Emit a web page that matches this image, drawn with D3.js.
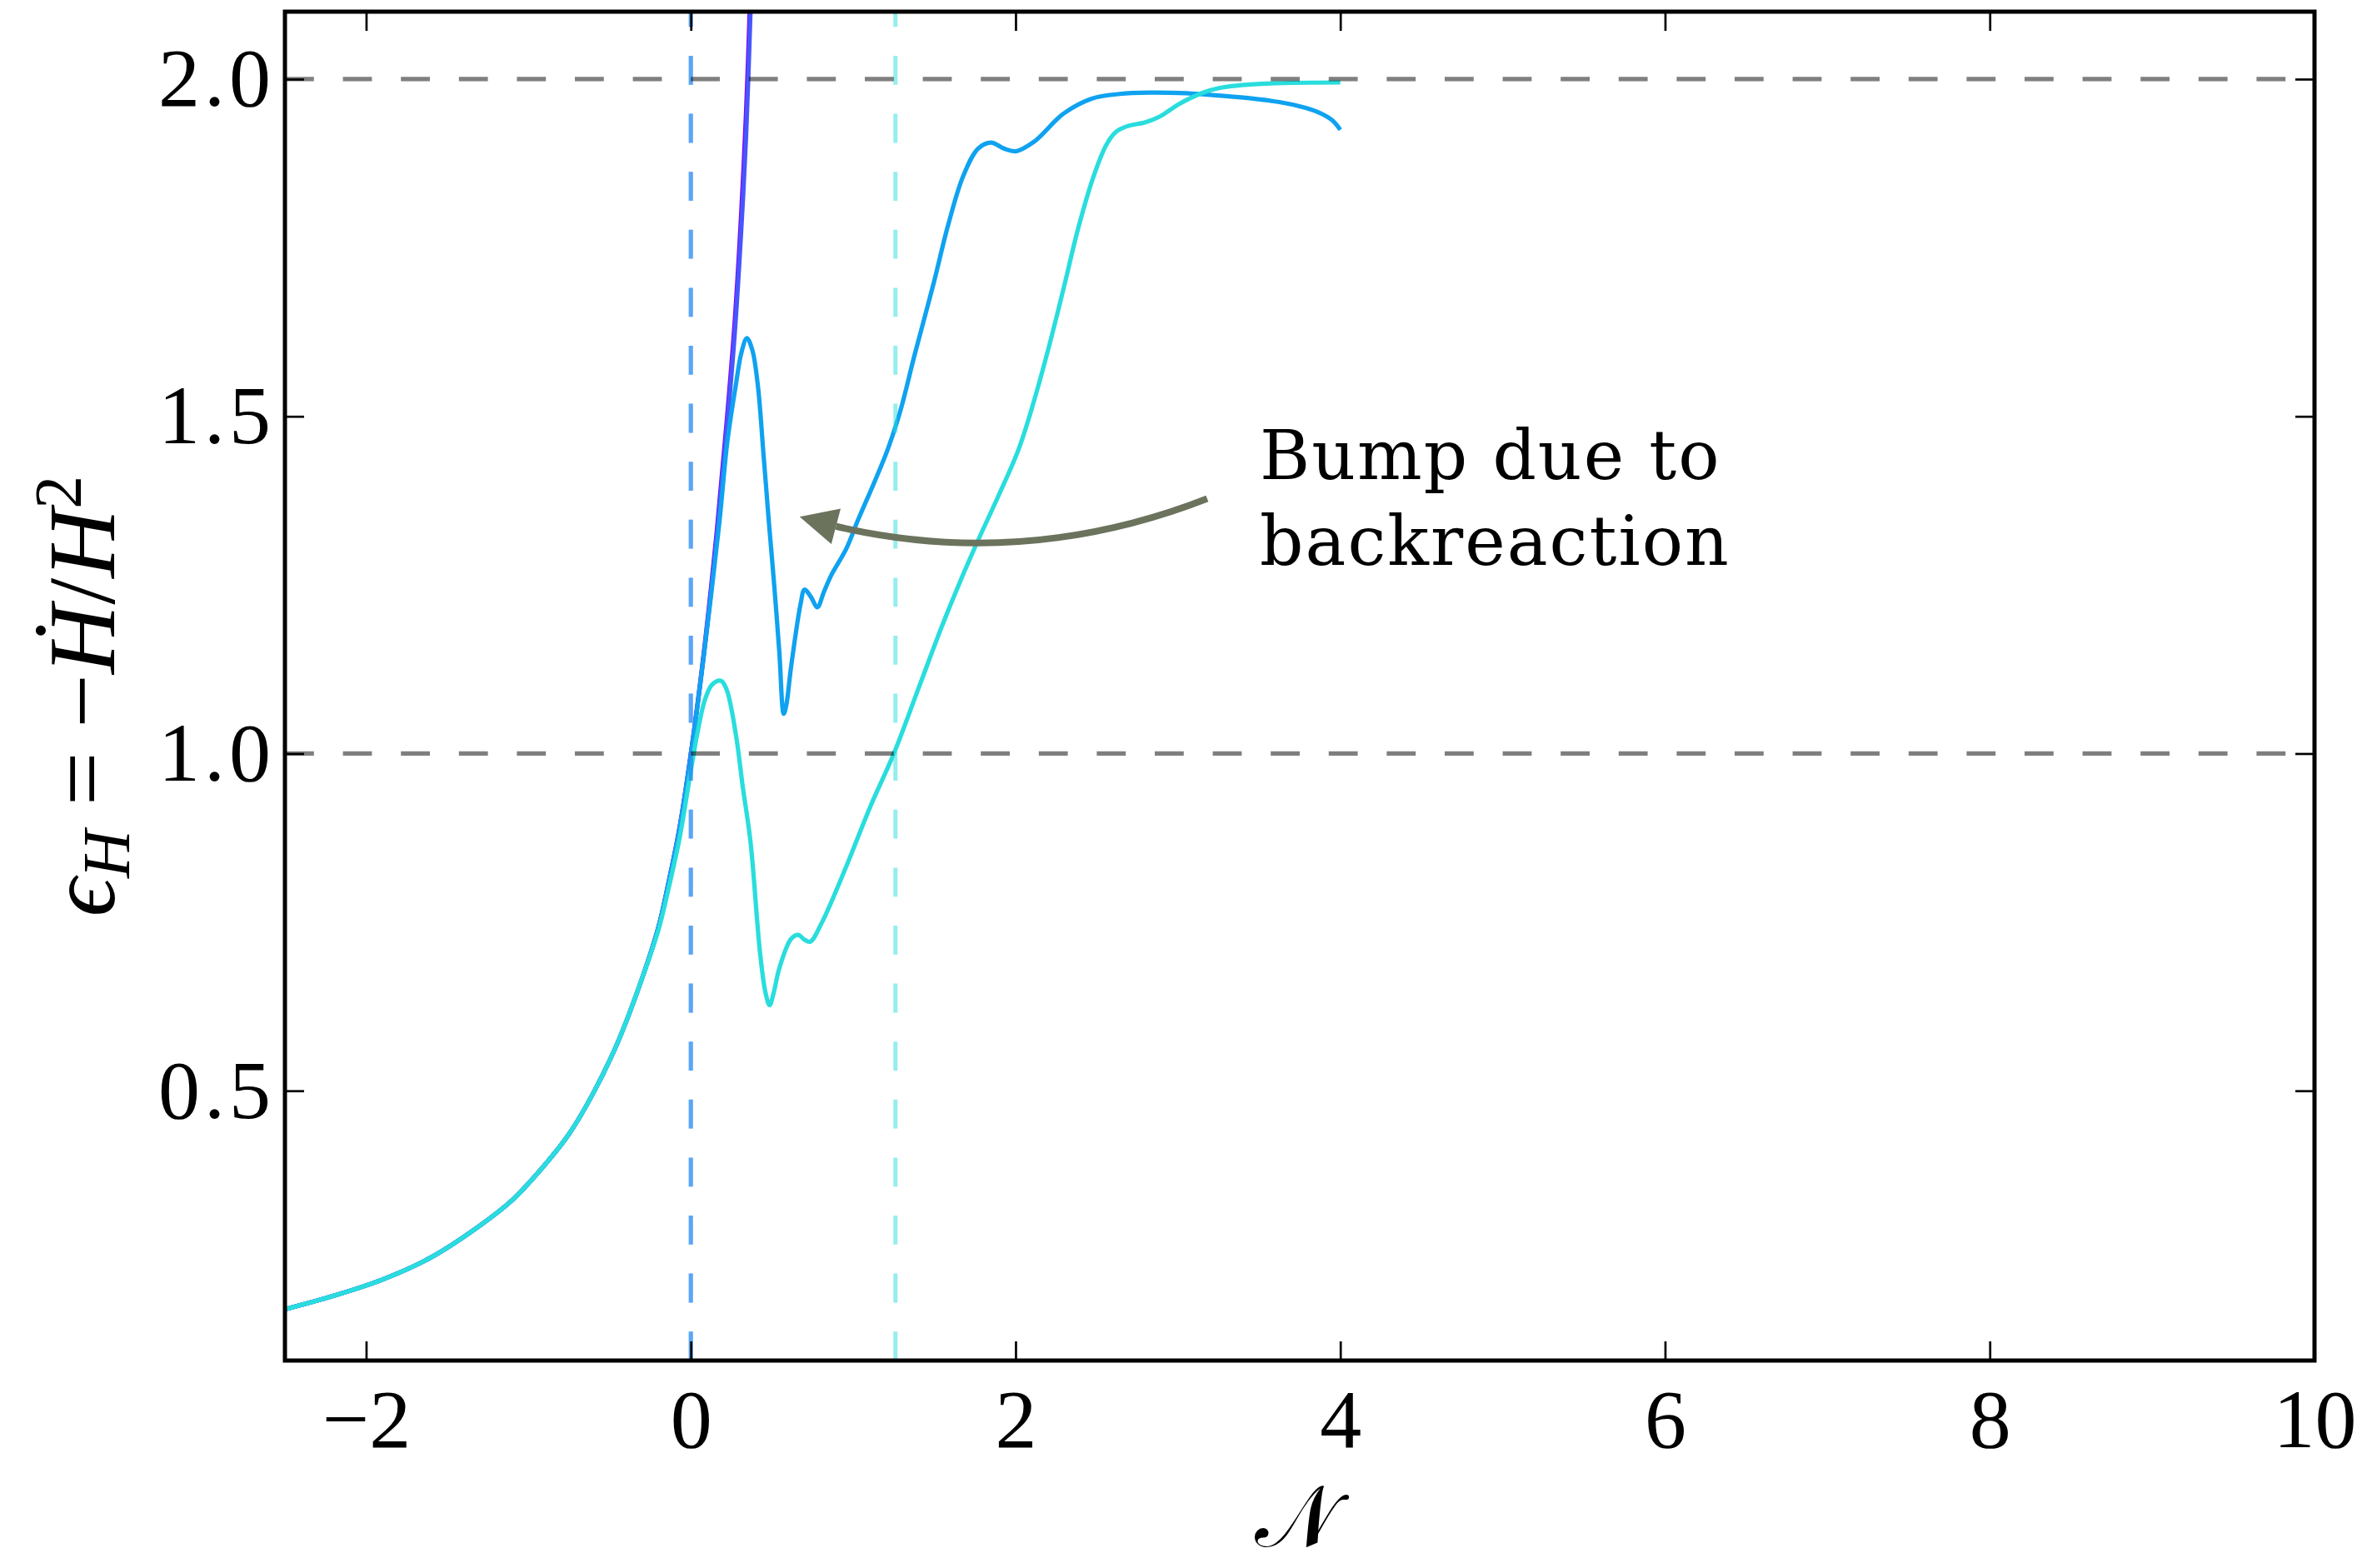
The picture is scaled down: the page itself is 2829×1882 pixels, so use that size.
<!DOCTYPE html>
<html>
<head>
<meta charset="utf-8">
<script src="https://cdn.jsdelivr.net/npm/d3@7"></script>
<style>
  html, body { margin: 0; padding: 0; background: #fff; }
  svg { display: block; }
</style>
</head>
<body>
<svg id="chart" width="2829" height="1882"></svg>
<script>
const width = 2829;
const height = 1882;
const margin = { top: 14, right: 51, bottom: 249, left: 342 };

const xDomain = [-2.5, 10];
const yDomain = [0.1, 2.1];
const xTicks = [-2, 0, 2, 4, 6, 8, 10];
const yTicks = [0.5, 1.0, 1.5, 2.0];

// shared slow-roll part, all runs lie on top of each other here
const baseCurve = [
  [-2.5, 0.176], [-2.2, 0.196], [-1.9, 0.220], [-1.6, 0.253], [-1.3, 0.300],
  [-1.1, 0.338], [-0.9, 0.390], [-0.75, 0.436], [-0.6, 0.497], [-0.45, 0.572],
  [-0.3, 0.667]
];

const epsPurple = baseCurve.concat([
  [-0.2, 0.742], [-0.14, 0.806], [-0.07, 0.890], [0.0, 1.000], [0.08, 1.150],
  [0.16, 1.330], [0.22, 1.490], [0.27, 1.640], [0.31, 1.800], [0.34, 1.950],
  [0.365, 2.120], [0.38, 2.250]
]);

const epsViolet = baseCurve.concat([
  [-0.2, 0.742], [-0.14, 0.805], [-0.07, 0.888], [0.0, 0.998], [0.08, 1.146],
  [0.16, 1.322], [0.22, 1.478], [0.27, 1.622], [0.31, 1.775], [0.34, 1.915],
  [0.37, 2.120], [0.385, 2.250]
]);

const epsBlue = baseCurve.concat([
  [-0.2, 0.742], [-0.14, 0.805], [-0.07, 0.888], [0.0, 0.998], [0.08, 1.146],
  [0.174, 1.339], [0.225, 1.463], [0.276, 1.545], [0.311, 1.594], [0.345, 1.616],
  [0.379, 1.598], [0.413, 1.545], [0.448, 1.442], [0.482, 1.339], [0.514, 1.248],
  [0.545, 1.150], [0.572, 1.059], [0.588, 1.072], [0.617, 1.128], [0.676, 1.222],
  [0.700, 1.243], [0.740, 1.232], [0.779, 1.217], [0.820, 1.240], [0.868, 1.266],
  [0.956, 1.303], [1.029, 1.346], [1.133, 1.404], [1.214, 1.452], [1.290, 1.508],
  [1.379, 1.592], [1.494, 1.696], [1.585, 1.784], [1.677, 1.856], [1.769, 1.897],
  [1.849, 1.906], [1.929, 1.897], [2.002, 1.893], [2.113, 1.907], [2.296, 1.949],
  [2.468, 1.971], [2.640, 1.978], [2.823, 1.980], [3.052, 1.979], [3.281, 1.975],
  [3.464, 1.971], [3.624, 1.966], [3.762, 1.959], [3.854, 1.952], [3.945, 1.940],
  [4.0, 1.925]
]);

const epsCyan = baseCurve.concat([
  [-0.2, 0.738], [-0.14, 0.797], [-0.07, 0.874], [0.0, 0.975], [0.04, 1.030],
  [0.087, 1.080], [0.13, 1.102], [0.184, 1.108], [0.22, 1.095], [0.278, 1.027],
  [0.32, 0.950], [0.367, 0.870], [0.426, 0.705], [0.46, 0.645], [0.485, 0.627],
  [0.51, 0.645], [0.544, 0.681], [0.617, 0.725], [0.661, 0.731], [0.70, 0.724],
  [0.735, 0.721], [0.808, 0.750], [0.956, 0.832], [1.103, 0.920], [1.250, 1.000],
  [1.398, 1.094], [1.545, 1.188], [1.660, 1.256], [1.780, 1.322], [1.900, 1.385],
  [2.020, 1.452], [2.110, 1.520], [2.204, 1.602], [2.296, 1.690], [2.387, 1.780],
  [2.479, 1.855], [2.560, 1.903], [2.620, 1.922], [2.685, 1.930], [2.800, 1.936],
  [2.892, 1.945], [3.006, 1.963], [3.144, 1.979], [3.258, 1.987], [3.510, 1.993],
  [4.0, 1.995]
]);

const runs = [epsPurple, epsViolet, epsBlue, epsCyan];
const runColors = ['#8000ff', '#4756fb', '#0fa2f0', '#29dddd'];

// N where each run finally reaches eps = 1
const endN = [null, 0.0, 0.0, 1.26];
const refLevels = [1.0, 2.0];

const noteLines = ['Bump due to', 'backreaction'];
const arrowFrom = [3.18, 1.378];
const arrowTo = [0.67, 1.351];

const svg = d3.select('#chart');
svg.append('rect').attr('width', width).attr('height', height).attr('fill', '#fff');

const x = d3.scaleLinear().domain(xDomain).range([margin.left, width - margin.right]);
const y = d3.scaleLinear().domain(yDomain).range([height - margin.bottom, margin.top]);

const x0 = x(xDomain[0]), x1 = x(xDomain[1]);
const yTop = y(yDomain[1]), yBot = y(yDomain[0]);

svg.append('clipPath')
  .attr('id', 'plot-clip')
  .append('rect')
  .attr('x', x0).attr('y', yTop)
  .attr('width', x1 - x0).attr('height', yBot - yTop);

const plot = svg.append('g').attr('clip-path', 'url(#plot-clip)');

const line = d3.line()
  .x(d => x(d[0]))
  .y(d => y(d[1]))
  .curve(d3.curveCatmullRom.alpha(0.5));

plot.selectAll('.run')
  .data(runs)
  .enter()
  .append('path')
  .classed('run', true)
  .attr('d', d => line(d))
  .style('fill', 'none')
  .style('stroke', (d, i) => runColors[i])
  .style('stroke-width', 5.2)
  .style('stroke-linejoin', 'round');

plot.selectAll('.end-line')
  .data(endN.map((n, i) => ({ n, i })).filter(d => d.n !== null))
  .enter()
  .append('line')
  .classed('end-line', true)
  .attr('x1', d => x(d.n)).attr('x2', d => x(d.n))
  .attr('y1', yBot).attr('y2', yTop)
  .style('stroke', d => runColors[d.i])
  .style('stroke-opacity', 0.5)
  .style('stroke-width', 5)
  .style('stroke-dasharray', '34.8 34.8');

plot.selectAll('.ref-line')
  .data(refLevels)
  .enter()
  .append('line')
  .classed('ref-line', true)
  .attr('x1', x0).attr('x2', x1)
  .attr('y1', d => y(d)).attr('y2', d => y(d))
  .style('stroke', '#000')
  .style('stroke-opacity', 0.5)
  .style('stroke-width', 5.3)
  .style('stroke-dasharray', '34.8 34.8');

// axes, ticks pointing inward on all four sides
const tickFont = '"Liberation Serif", "DejaVu Serif", serif';

function styleAxis(g) {
  g.select('.domain').remove();
  g.selectAll('.tick line').style('stroke', '#000').style('stroke-width', 2.7);
  g.selectAll('.tick text')
    .style('font-family', tickFont)
    .style('font-size', '100px')
    .style('fill', '#000');
}

svg.append('g')
  .attr('transform', `translate(0,${yBot})`)
  .call(d3.axisBottom(x).tickValues(xTicks).tickSize(-23).tickPadding(33).tickFormat(d3.format('d')))
  .call(styleAxis);

svg.append('g')
  .attr('transform', `translate(0,${yTop})`)
  .call(d3.axisTop(x).tickValues(xTicks).tickSize(-23).tickFormat(''))
  .call(styleAxis);

svg.append('g')
  .attr('transform', `translate(${x0},0)`)
  .call(d3.axisLeft(y).tickValues(yTicks).tickSize(-23).tickPadding(12).tickFormat(d3.format('.1f')))
  .call(styleAxis)
  .call(g => g.selectAll('.tick text').style('letter-spacing', '5px'));

svg.append('g')
  .attr('transform', `translate(${x1},0)`)
  .call(d3.axisRight(y).tickValues(yTicks).tickSize(-23).tickFormat(''))
  .call(styleAxis);

svg.append('rect')
  .attr('x', x0).attr('y', yTop)
  .attr('width', x1 - x0).attr('height', yBot - yTop)
  .style('fill', 'none')
  .style('stroke', '#000')
  .style('stroke-width', 5);

// annotation arrow (arc3 style bend)
const p0 = [x(arrowFrom[0]), y(arrowFrom[1])];
const p2 = [x(arrowTo[0]), y(arrowTo[1])];
const rad = 0.17;
const ctrl = [
  (p0[0] + p2[0]) / 2 + rad * (p2[1] - p0[1]),
  (p0[1] + p2[1]) / 2 - rad * (p2[0] - p0[0])
];
const bez = t => [
  (1 - t) * (1 - t) * p0[0] + 2 * (1 - t) * t * ctrl[0] + t * t * p2[0],
  (1 - t) * (1 - t) * p0[1] + 2 * (1 - t) * t * ctrl[1] + t * t * p2[1]
];
const headLen = 45;
const headHalf = 22;
let tb = 1;
while (tb > 0 && Math.hypot(bez(tb)[0] - p2[0], bez(tb)[1] - p2[1]) < headLen) tb -= 0.001;
const qEnd = bez(tb);
const qCtrl = [p0[0] + (ctrl[0] - p0[0]) * tb, p0[1] + (ctrl[1] - p0[1]) * tb];
const shaft = d3.path();
shaft.moveTo(p0[0], p0[1]);
shaft.quadraticCurveTo(qCtrl[0], qCtrl[1], qEnd[0], qEnd[1]);

const arrowColor = '#6b735d';
svg.append('path')
  .attr('d', shaft.toString())
  .style('fill', 'none')
  .style('stroke', arrowColor)
  .style('stroke-width', 8);

const ux = (p2[0] - qEnd[0]) / headLen, uy = (p2[1] - qEnd[1]) / headLen;
svg.append('path')
  .attr('d', `M${p2[0]},${p2[1]}L${qEnd[0] - uy * headHalf},${qEnd[1] + ux * headHalf}L${qEnd[0] + uy * headHalf},${qEnd[1] - ux * headHalf}Z`)
  .style('fill', arrowColor);

svg.append('text')
  .attr('x', 1512)
  .attr('y', 575)
  .style('font-family', '"DejaVu Serif", serif')
  .style('font-size', '82px')
  .style('letter-spacing', '2px')
  .style('fill', '#000')
  .selectAll('tspan')
  .data(noteLines)
  .enter()
  .append('tspan')
  .attr('x', 1512)
  .attr('dy', (d, i) => i === 0 ? 0 : 103)
  .text(d => d);

// axis labels
svg.append('text')
  .attr('x', (x0 + x1) / 2 - 4)
  .attr('y', 1856)
  .attr('text-anchor', 'middle')
  .style('font-family', '"DejaVu Serif", "DejaVu Sans", serif')
  .style('font-size', '104px')
  .style('fill', '#000')
  .text('\u{1D4A9}');

const ylab = svg.append('text')
  .attr('transform', `translate(137,${(yTop + yBot) / 2 + 12}) rotate(-90)`)
  .attr('text-anchor', 'middle')
  .style('font-family', tickFont)
  .style('font-size', '115px')
  .style('fill', '#000');
ylab.append('tspan').style('font-style', 'italic').text('\u03F5');
ylab.append('tspan').style('font-style', 'italic').style('font-size', '80px').attr('dy', 18).text('H');
ylab.append('tspan').attr('dy', -18).text(' = \u2212');
ylab.append('tspan').style('font-style', 'italic').text('\u1E22');
ylab.append('tspan').text('/');
ylab.append('tspan').style('font-style', 'italic').text('H');
ylab.append('tspan').style('font-size', '80px').attr('dy', -40).text('2');
</script>
</body>
</html>
